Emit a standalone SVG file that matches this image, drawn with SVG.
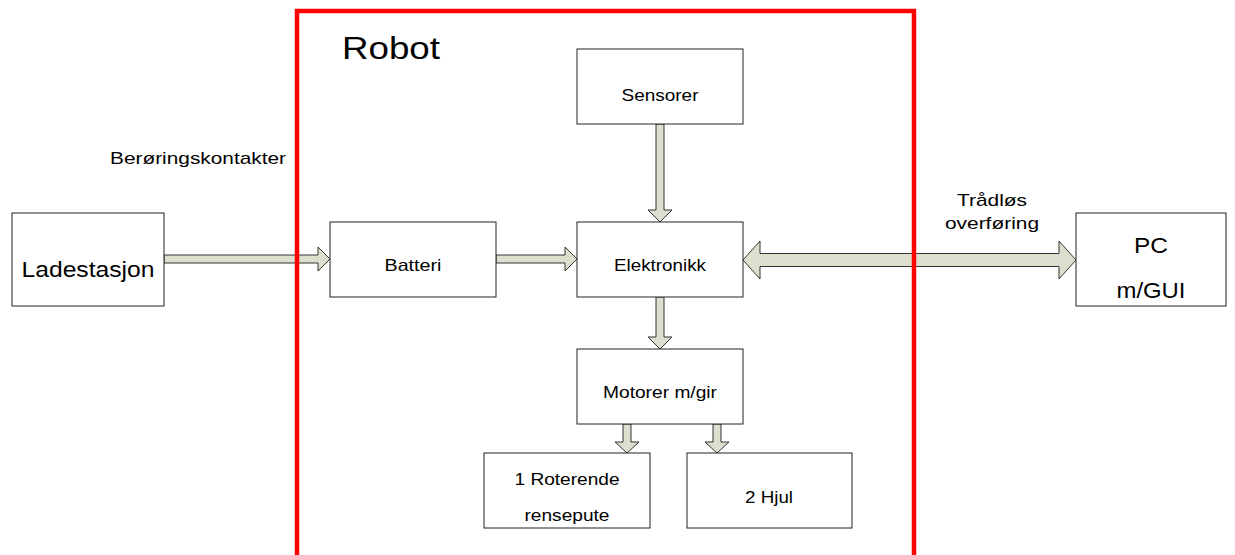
<svg xmlns="http://www.w3.org/2000/svg" width="1235" height="555" viewBox="0 0 1235 555">
<style>
.box{fill:#fff;stroke:#222;stroke-width:1}
.arr{fill:#dcdfcd;stroke:#333;stroke-width:1;stroke-linejoin:miter}
text{font-family:"Liberation Sans",Arial,sans-serif;fill:#000}
.s{font-size:16.5px}
.m{font-size:17px}
.l{font-size:22px}
</style>
<rect width="1235" height="555" fill="#fff"/>
<g id="connectors">
<polygon class="arr" points="164,255 318,255 318,247 330,259 318,271 318,263 164,263"/>
<polygon class="arr" points="496,255 565,255 565,247 577,259 565,271 565,263 496,263"/>
<polygon class="arr" points="656,124 664,124 664,210 672,210 660,222 648,210 656,210"/>
<polygon class="arr" points="656,297 664,297 664,337 672,337 660,349 648,337 656,337"/>
<polygon class="arr" points="623,424 631,424 631,442 639,442 627,453 615,442 623,442"/>
<polygon class="arr" points="713,424 721,424 721,442 729,442 717,453 705,442 713,442"/>
<polygon class="arr" points="743,260 760,241 760,253.5 1059,253.5 1059,241 1076,260 1059,279 1059,266.5 760,266.5 760,279"/>
</g>
<g id="robot">
<path d="M297,555 V11 H914 V555" fill="none" stroke="#ff0000" stroke-width="4.5"/>
<text x="342" y="59" font-size="32" textLength="98" lengthAdjust="spacingAndGlyphs">Robot</text>
</g>
<g id="label-berøring">
<text class="m" x="110" y="164" textLength="176" lengthAdjust="spacingAndGlyphs">Berøringskontakter</text>
</g>
<g id="label-tradlos">
<text class="m" x="992" y="206" text-anchor="middle" textLength="70" lengthAdjust="spacingAndGlyphs">Trådløs</text>
<text class="m" x="992" y="229" text-anchor="middle" textLength="94" lengthAdjust="spacingAndGlyphs">overføring</text>
</g>
<g id="ladestasjon">
<rect class="box" x="12" y="213" width="152" height="93"/>
<text class="l" x="88" y="277" text-anchor="middle" textLength="133" lengthAdjust="spacingAndGlyphs">Ladestasjon</text>
</g>
<g id="batteri">
<rect class="box" x="330" y="222" width="166" height="75"/>
<text class="s" x="413" y="271" text-anchor="middle" textLength="57" lengthAdjust="spacingAndGlyphs">Batteri</text>
</g>
<g id="sensorer">
<rect class="box" x="577" y="49" width="166" height="75"/>
<text class="s" x="660" y="101" text-anchor="middle" textLength="77" lengthAdjust="spacingAndGlyphs">Sensorer</text>
</g>
<g id="elektronikk">
<rect class="box" x="577" y="222" width="166" height="75"/>
<text class="s" x="660" y="271" text-anchor="middle" textLength="92" lengthAdjust="spacingAndGlyphs">Elektronikk</text>
</g>
<g id="motorer">
<rect class="box" x="577" y="349" width="166" height="75"/>
<text class="s" x="660" y="398" text-anchor="middle" textLength="114" lengthAdjust="spacingAndGlyphs">Motorer m/gir</text>
</g>
<g id="roterende">
<rect class="box" x="484" y="453" width="166" height="75"/>
<text class="s" x="567" y="485" text-anchor="middle" textLength="105" lengthAdjust="spacingAndGlyphs">1 Roterende</text>
<text class="s" x="567" y="521" text-anchor="middle" textLength="85" lengthAdjust="spacingAndGlyphs">rensepute</text>
</g>
<g id="hjul">
<rect class="box" x="687" y="453" width="165" height="75"/>
<text class="s" x="769" y="503" text-anchor="middle" textLength="48" lengthAdjust="spacingAndGlyphs">2 Hjul</text>
</g>
<g id="pc">
<rect class="box" x="1076" y="213" width="150" height="93"/>
<text class="l" x="1151" y="253" text-anchor="middle" textLength="34" lengthAdjust="spacingAndGlyphs">PC</text>
<text class="l" x="1151" y="298" text-anchor="middle" textLength="69" lengthAdjust="spacingAndGlyphs">m/GUI</text>
</g>
</svg>
